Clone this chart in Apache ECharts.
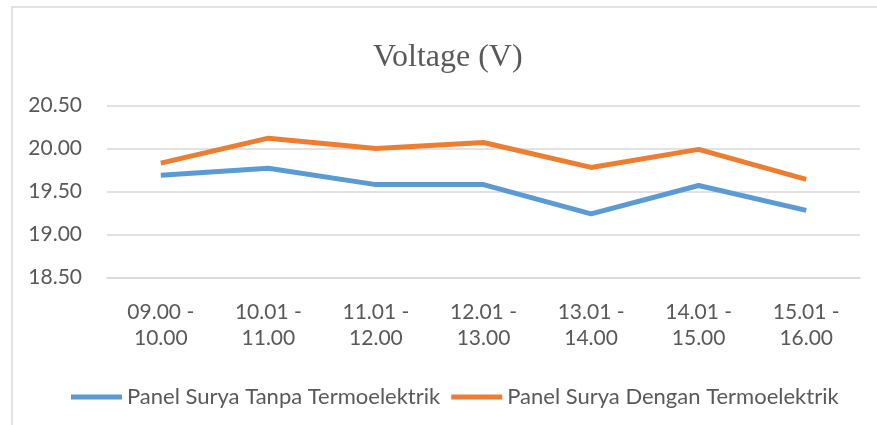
<!DOCTYPE html>
<html>
<head>
<meta charset="utf-8">
<script src="https://cdn.jsdelivr.net/npm/echarts@6/dist/echarts.min.js"></script>
<style>
  html, body { margin: 0; padding: 0; background: #fff; }
  #chart { width: 877px; height: 425px; }
</style>
</head>
<body>
<div id="chart"></div>
<script>
// jam pengukuran
const categories = ['09.00 -\n10.00', '10.01 -\n11.00', '11.01 -\n12.00', '12.01 -\n13.00', '13.01 -\n14.00', '14.01 -\n15.00', '15.01 -\n16.00']
const tanpaTermo = [19.69, 19.77, 19.58, 19.58, 19.24, 19.57, 19.28] // tanpa termoelektrik
const denganTermo = [19.83, 20.12, 20.00, 20.07, 19.78, 19.99, 19.64] // dengan termoelektrik
const seriesNames = ['Panel Surya Tanpa Termoelektrik', 'Panel Surya Dengan Termoelektrik']

const myChart = echarts.init(document.getElementById('chart'))
const textColor = '#595959'
const option = {
  animation: false,
  graphic: [{
    type: 'rect',
    shape: { x: 12, y: 7, width: 900, height: 440 },
    style: { fill: 'none', stroke: '#d9d9d9', lineWidth: 1.5 },
    silent: true
  }],
  title: {
    text: 'Voltage (V)',
    left: 368,
    top: 37,
    textStyle: {
      color: textColor,
      fontSize: 32,
      fontWeight: 'normal',
      fontFamily: 'Liberation Serif'
    }
  },
  color: ['#5B9BD5', '#ED7D31'],
  legend: {
    data: seriesNames,
    top: 381,
    left: 66,
    itemWidth: 51,
    itemHeight: 5,
    itemGap: 11,
    icon: 'rect',
    textStyle: { color: textColor, fontSize: 22, fontFamily: 'Lato' }
  },
  grid: {
    left: 107,
    right: 17,
    top: 105.5,
    bottom: 147.5
  },
  xAxis: {
    type: 'category',
    data: categories,
    axisLine: { lineStyle: { color: '#d9d9d9', width: 1.5 } },
    axisTick: { show: false },
    axisLabel: {
      color: textColor,
      fontSize: 21,
      lineHeight: 26,
      margin: 22,
      fontFamily: 'Lato',
      interval: 0
    }
  },
  yAxis: {
    type: 'value',
    min: 18.5,
    max: 20.5,
    interval: 0.5,
    axisLine: { show: false },
    axisTick: { show: false },
    splitLine: { lineStyle: { color: '#d9d9d9', width: 1.5 } },
    axisLabel: {
      color: textColor,
      fontSize: 21,
      margin: 25,
      fontFamily: 'Lato',
      formatter: v => v.toFixed(2)
    }
  },
  series: [
    {
      name: seriesNames[0],
      type: 'line',
      data: tanpaTermo,
      symbol: 'none',
      lineStyle: { width: 5 }
    },
    {
      name: seriesNames[1],
      type: 'line',
      data: denganTermo,
      symbol: 'none',
      lineStyle: { width: 5 }
    }
  ]
}
myChart.setOption(option)
</script>
</body>
</html>
